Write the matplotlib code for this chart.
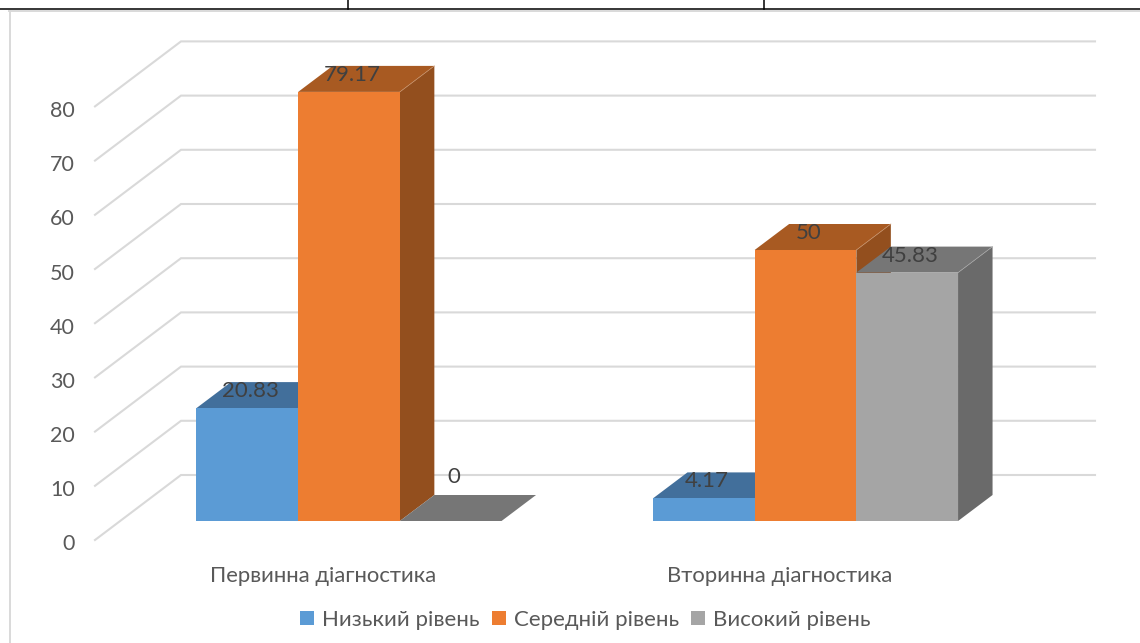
import matplotlib
matplotlib.use('Agg')
import matplotlib.pyplot as plt
from matplotlib.lines import Line2D
from matplotlib.patches import Patch, Polygon

plt.rcParams['font.family'] = ['Lato', 'Noto Sans', 'DejaVu Sans']

categories = ['Первинна діагностика', 'Вторинна діагностика']
series_names = ['Низький рівень', 'Середній рівень', 'Високий рівень']
low = [20.83, 4.17]
mid = [79.17, 50]
high = [0, 45.83]
y_ticks = [0, 10, 20, 30, 40, 50, 60, 70, 80]

front_cols = ['#5B9BD5', '#ED7D31', '#A5A5A5']
top_cols = ['#426F9B', '#A85A22', '#767676']
side_cols = ['#3A6690', '#934F1E', '#6A6A6A']
edge_cols = ['#6F97BC', '#C8926A', '#A8A8A8']
grid_col = '#D9D9D9'
text_col = '#595959'
label_col = '#404040'

W, H = 1140, 643
PX_X = 456.5   # pixels per category
PX_Y = 5.42    # pixels per value
X0, Y0 = 349, 521  # where category 0 / value 0 sit on the bars' front

fig = plt.figure(figsize=(W / 100, H / 100), dpi=100)
ax = fig.add_axes([0, 0, 1, 1])
ax.set_xlim(-X0 / PX_X, (W - X0) / PX_X)
ax.set_ylim(-(H - Y0) / PX_Y, Y0 / PX_Y)
ax.axis('off')

def dx(px):
    return px / PX_X

def dy(px):
    return px / PX_Y

# page table line and chart border above the plot
fig.add_artist(Line2D([0, 1], [1 - 8.5 / H] * 2, color='black', lw=1.1))
for xp in (348, 764):
    fig.add_artist(Line2D([xp / W] * 2, [1 - 8.5 / H, 1], color='black', lw=1.1))
fig.add_artist(Line2D([8.5 / W, 1], [1 - 10.5 / H] * 2, color=grid_col, lw=1.4))
fig.add_artist(Line2D([9.5 / W] * 2, [0, 1 - 10.5 / H], color=grid_col, lw=1.4))

# gridlines: slanted along the side wall, flat along the back wall
wall_l, wall_m, wall_r = dx(95 - X0), dx(181 - X0), dx(1095 - X0)
for v in y_ticks:
    y_front = v + dy(-19)
    y_back = v + dy(46)
    ax.plot([wall_l, wall_m, wall_r], [y_front, y_back, y_back], color=grid_col, lw=1.5,
            solid_joinstyle='miter', zorder=1)
    ax.text(dx(75 - X0), v + dy(-23.5), str(v), ha='right', va='center', color=text_col, fontsize=15.5)

bar_w = dx(101.7)
depth_x, depth_y = dx(34.5), dy(26)

z = 2
for g in range(len(categories)):
    values = [low[g], mid[g], high[g]]
    for s, v in enumerate(values):
        left = g + (s - 1.5) * bar_w
        right = left + bar_w
        ax.add_patch(Polygon([(left, v), (right, v), (right + depth_x, v + depth_y), (left + depth_x, v + depth_y)],
                             closed=True, fc=top_cols[s], ec='none', zorder=z))
        if v > 0:
            ax.add_patch(Polygon([(right, 0), (right + depth_x, depth_y), (right + depth_x, v + depth_y), (right, v)],
                                 closed=True, fc=side_cols[s], ec='none', zorder=z))
            ax.plot([right, right + depth_x], [v, v + depth_y], color=edge_cols[s], lw=0.5, zorder=z + 0.5)
            ax.add_patch(Polygon([(left, 0), (right, 0), (right, v), (left, v)],
                                 closed=True, fc=front_cols[s], ec='none', zorder=z + 0.6))
        z += 1
        # value label sits on the top face; the zero one floats above the floor
        lift = dy(44) if v == 0 else dy(17)
        ax.text(left + bar_w / 2 + dx(3), v + lift, f'{v:g}', ha='center', va='center',
                color=label_col, fontsize=16, zorder=50)
    ax.text(g + dx(-26), dy(-55), categories[g], ha='center', va='center', color=text_col, fontsize=15.9)

handles = [Patch(fc=c, ec='none') for c in front_cols]
ax.legend(handles, series_names, loc='center', bbox_to_anchor=(585.5 / W, 1 - 620 / H), ncol=3, frameon=False,
          fontsize=16, labelcolor=text_col, handlelength=0.63, handleheight=0.63,
          handletextpad=0.36, columnspacing=0.54)

fig.savefig('out.png', dpi=100)
